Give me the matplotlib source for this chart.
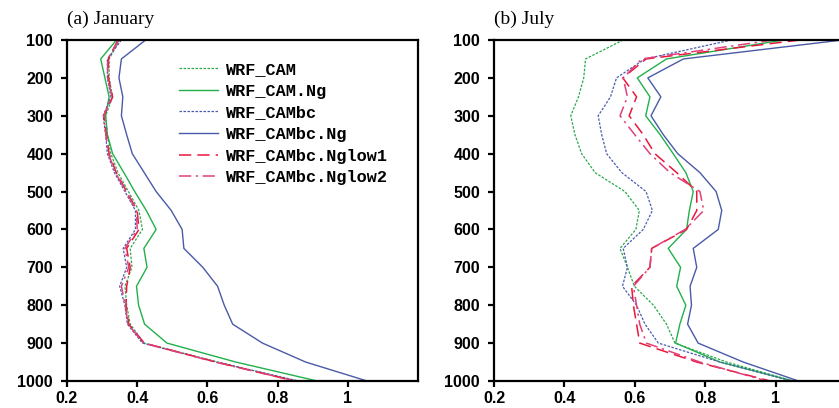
import numpy as np
import matplotlib
matplotlib.use("Agg")
import matplotlib.pyplot as plt

# pressure levels (hPa)
lev = np.arange(100, 1001, 50)

names = ["WRF_CAM", "WRF_CAM.Ng", "WRF_CAMbc", "WRF_CAMbc.Ng",
         "WRF_CAMbc.Nglow1", "WRF_CAMbc.Nglow2"]

# (a) January
jan_cam = [0.35, 0.32, 0.32, 0.33, 0.31, 0.315, 0.325, 0.345, 0.375, 0.405, 0.415,
           0.38, 0.385, 0.365, 0.37, 0.38, 0.42, 0.63, 0.855]
jan_cam_ng = [0.341, 0.296, 0.308, 0.32, 0.31, 0.315, 0.33, 0.362, 0.393, 0.426, 0.454,
              0.419, 0.428, 0.398, 0.404, 0.421, 0.485, 0.681, 0.913]
jan_cambc = [0.355, 0.315, 0.315, 0.325, 0.303, 0.31, 0.315, 0.335, 0.365, 0.395, 0.395,
             0.36, 0.37, 0.35, 0.365, 0.372, 0.415, 0.625, 0.86]
jan_cambc_ng = [0.424, 0.355, 0.348, 0.359, 0.355, 0.37, 0.386, 0.42, 0.454, 0.497, 0.528,
                0.533, 0.587, 0.629, 0.648, 0.672, 0.757, 0.88, 1.055]
jan_nglow1 = [0.345, 0.318, 0.318, 0.33, 0.305, 0.312, 0.32, 0.34, 0.37, 0.4, 0.405,
              0.37, 0.38, 0.37, 0.368, 0.376, 0.42, 0.625, 0.848]
jan_nglow2 = [0.348, 0.316, 0.316, 0.328, 0.304, 0.311, 0.318, 0.338, 0.368, 0.398, 0.4,
              0.365, 0.376, 0.355, 0.366, 0.374, 0.418, 0.622, 0.85]

# (b) July
jul_cam = [0.567, 0.46, 0.455, 0.44, 0.418, 0.43, 0.449, 0.487, 0.572, 0.613, 0.603,
           0.558, 0.579, 0.599, 0.653, 0.69, 0.714, 0.861, 1.05]
jul_cam_ng = [1.022, 0.69, 0.607, 0.643, 0.631, 0.672, 0.709, 0.745, 0.766, 0.755, 0.747,
              0.695, 0.73, 0.719, 0.745, 0.728, 0.716, 0.842, 1.05]
jul_cambc = [0.875, 0.629, 0.548, 0.531, 0.496, 0.506, 0.52, 0.563, 0.632, 0.65, 0.624,
             0.567, 0.579, 0.565, 0.605, 0.629, 0.667, 0.842, 1.045]
jul_cambc_ng = [1.19, 0.738, 0.637, 0.674, 0.646, 0.681, 0.722, 0.785, 0.831, 0.847, 0.837,
                0.766, 0.776, 0.757, 0.761, 0.75, 0.78, 0.908, 1.065]
jul_nglow1 = [1.069, 0.632, 0.566, 0.605, 0.584, 0.624, 0.657, 0.719, 0.776, 0.776, 0.747,
              0.648, 0.643, 0.591, 0.596, 0.605, 0.614, 0.776, 0.985]
jul_nglow2 = [0.994, 0.62, 0.567, 0.579, 0.558, 0.6, 0.643, 0.70, 0.785, 0.796, 0.743,
              0.648, 0.643, 0.596, 0.605, 0.614, 0.633, 0.785, 0.975]

colors = ["#2aa84a", "#22b04a", "#4a5cb0", "#4a5aa8", "#e8183c", "#e0407a"]
styles = [(0, (2, 1.2)), "-", (0, (2, 1.2)), "-", (0, (8, 4)), (0, (8, 3, 1.5, 3))]
widths = [0.9, 1.0, 0.9, 1.0, 1.1, 1.1]

jan = [jan_cam, jan_cam_ng, jan_cambc, jan_cambc_ng, jan_nglow1, jan_nglow2]
jul = [jul_cam, jul_cam_ng, jul_cambc, jul_cambc_ng, jul_nglow1, jul_nglow2]

fig = plt.figure(figsize=(8.39, 4.08), dpi=100)
ax1 = fig.add_axes([67/839, 1-381/408, 351/839, 341/408])
ax2 = fig.add_axes([494/839, 1-381/408, 352/839, 341/408])

for ax, data, title in [(ax1, jan, "(a) January"), (ax2, jul, "(b) July")]:
    for d, c, s, w, n in zip(data, colors, styles, widths, names):
        ax.plot(d, lev, color=c, linestyle=s, linewidth=w, label=n)
    ax.set_xlim(0.2, 1.2)
    ax.set_ylim(1000, 100)
    ax.set_xticks([0.2, 0.4, 0.6, 0.8, 1.0])
    ax.set_xticklabels(["0.2", "0.4", "0.6", "0.8", "1"])
    ax.set_yticks(range(100, 1001, 100))
    for sp in ax.spines.values():
        sp.set_linewidth(1.6)
    ax.tick_params(direction="out", length=4.5, width=1.6)
    ax.tick_params(axis="y", pad=5.5)
    ax.tick_params(axis="x", pad=3)
    for lab in ax.get_xticklabels() + ax.get_yticklabels():
        lab.set_fontfamily("Liberation Sans")
        lab.set_fontweight("bold")
        lab.set_fontsize(11.5)
    ax.text(0.0, 1.035, title, transform=ax.transAxes, fontsize=14,
            family="Liberation Serif", ha="left", va="bottom")

leg = ax1.legend(loc="upper left", bbox_to_anchor=(0.319, 0.935), frameon=False,
                 prop={"family": "Liberation Mono", "weight": "bold", "size": 12.2},
                 handlelength=2.3, handletextpad=0.5, labelspacing=0.39,
                 borderpad=0, borderaxespad=0)

fig.savefig("out.png", dpi=100)
